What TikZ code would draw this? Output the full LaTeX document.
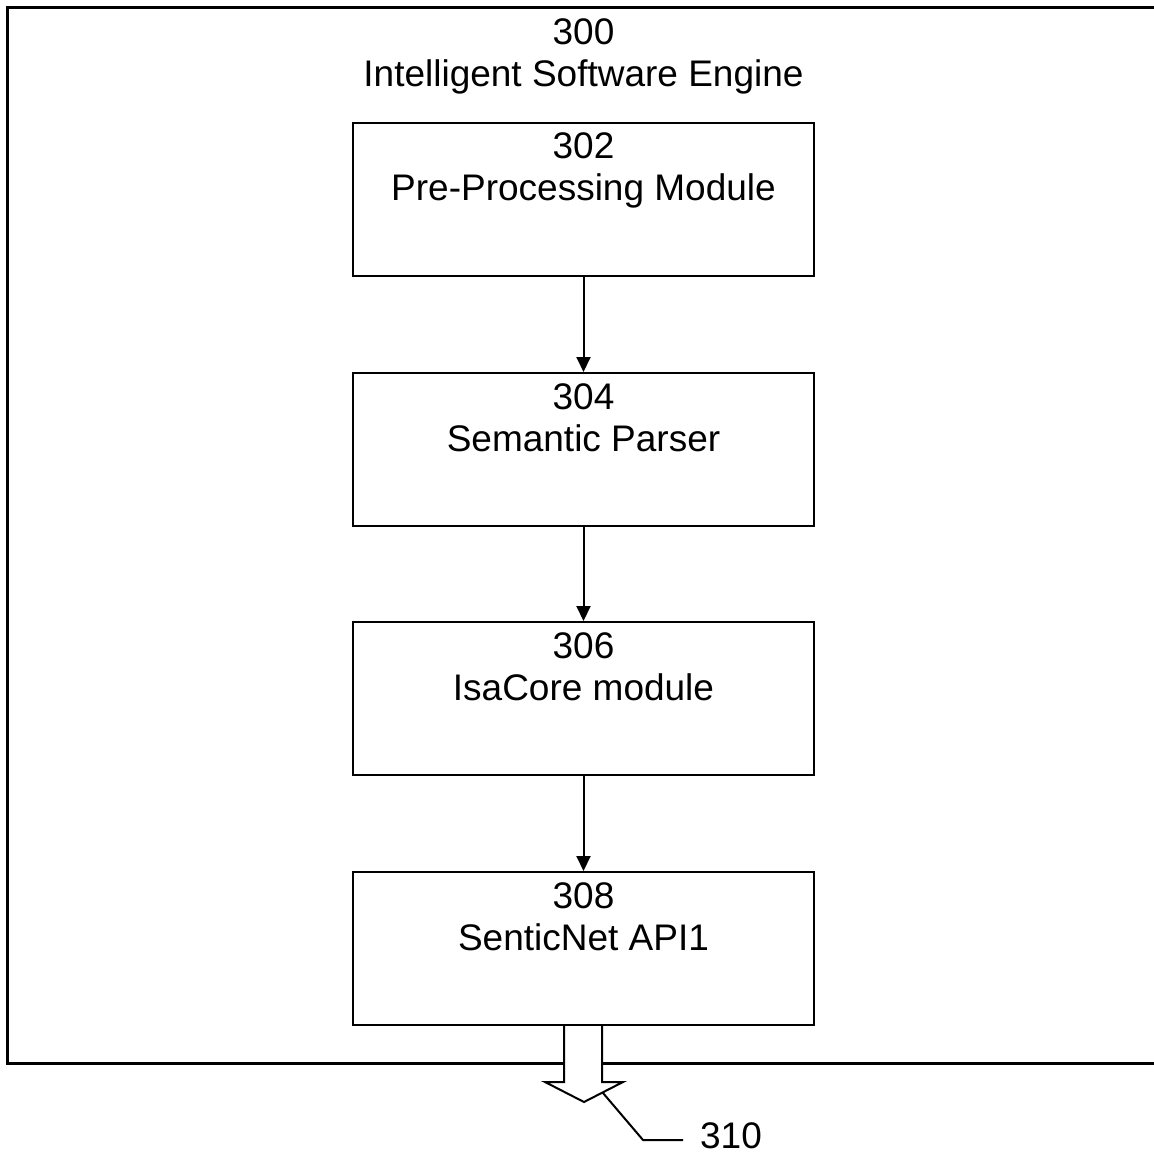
\documentclass[tikz,border=0pt]{standalone}
\usepackage{fontspec}
\setmainfont{Liberation Sans}
\usetikzlibrary{arrows.meta}
\begin{document}
\begin{tikzpicture}[x=1pt,y=1pt,
  box/.style={draw, line width=2pt, minimum width=461pt, minimum height=153pt, inner sep=0pt},
  lbl/.style={font=\fontsize{37}{42}\selectfont, inner sep=0pt, anchor=base},
  arr/.style={-{Triangle[length=15pt,width=14pt]}, line width=2pt}]
\useasboundingbox (0,0) rectangle (1153,-1158);
% outer frame
\draw[line width=3pt] (1170,-8) -- (7.5,-8) -- (7.5,-1063) -- (1170,-1063);
\node[lbl] (t300) at (583.5,-45) {300};
\node[lbl] (tISE) at (583.5,-87) {Intelligent Software Engine};
% boxes
\node[box] (b1) at (583.5,-199.5) {};
\node[box] (b2) at (583.5,-449.5) {};
\node[box] (b3) at (583.5,-698.5) {};
\node[box] (b4) at (583.5,-948.5) {};
\node[lbl] (n1) at ([yshift=-37pt]b1.north) {302};
\node[lbl] (m1) at ([yshift=-79pt]b1.north) {Pre-Processing Module};
\node[lbl] (n2) at ([yshift=-37pt]b2.north) {304};
\node[lbl] (m2) at ([yshift=-79pt]b2.north) {Semantic Parser};
\node[lbl] (n3) at ([yshift=-37pt]b3.north) {306};
\node[lbl] (m3) at ([yshift=-79pt]b3.north) {IsaCore module};
\node[lbl] (n4) at ([yshift=-37pt]b4.north) {308};
\node[lbl] (m4) at ([yshift=-79pt]b4.north) {SenticNet API1};
% arrows
\draw[arr] (b1.south) -- (b2.north);
\draw[arr] (b2.south) -- (b3.north);
\draw[arr] (b3.south) -- (b4.north);
% hollow output arrow
\fill[white] (564,-1026) -- (564,-1082) -- (545,-1082) -- (584,-1102) -- (623,-1082) -- (602,-1082) -- (602,-1026) -- cycle;
\draw[line width=2pt, line join=miter] (564,-1026) -- (564,-1082) -- (545,-1082) -- (584,-1102) -- (623,-1082) -- (602,-1082) -- (602,-1026);
% label 310
\coordinate (p310) at (603,-1093);
\node[lbl] (l310) at (731,-1148) {310};
\coordinate (e310) at (683,-1140);
\draw[line width=2pt] (p310) -- (643,-1140) -- (e310);
\end{tikzpicture}
\end{document}
